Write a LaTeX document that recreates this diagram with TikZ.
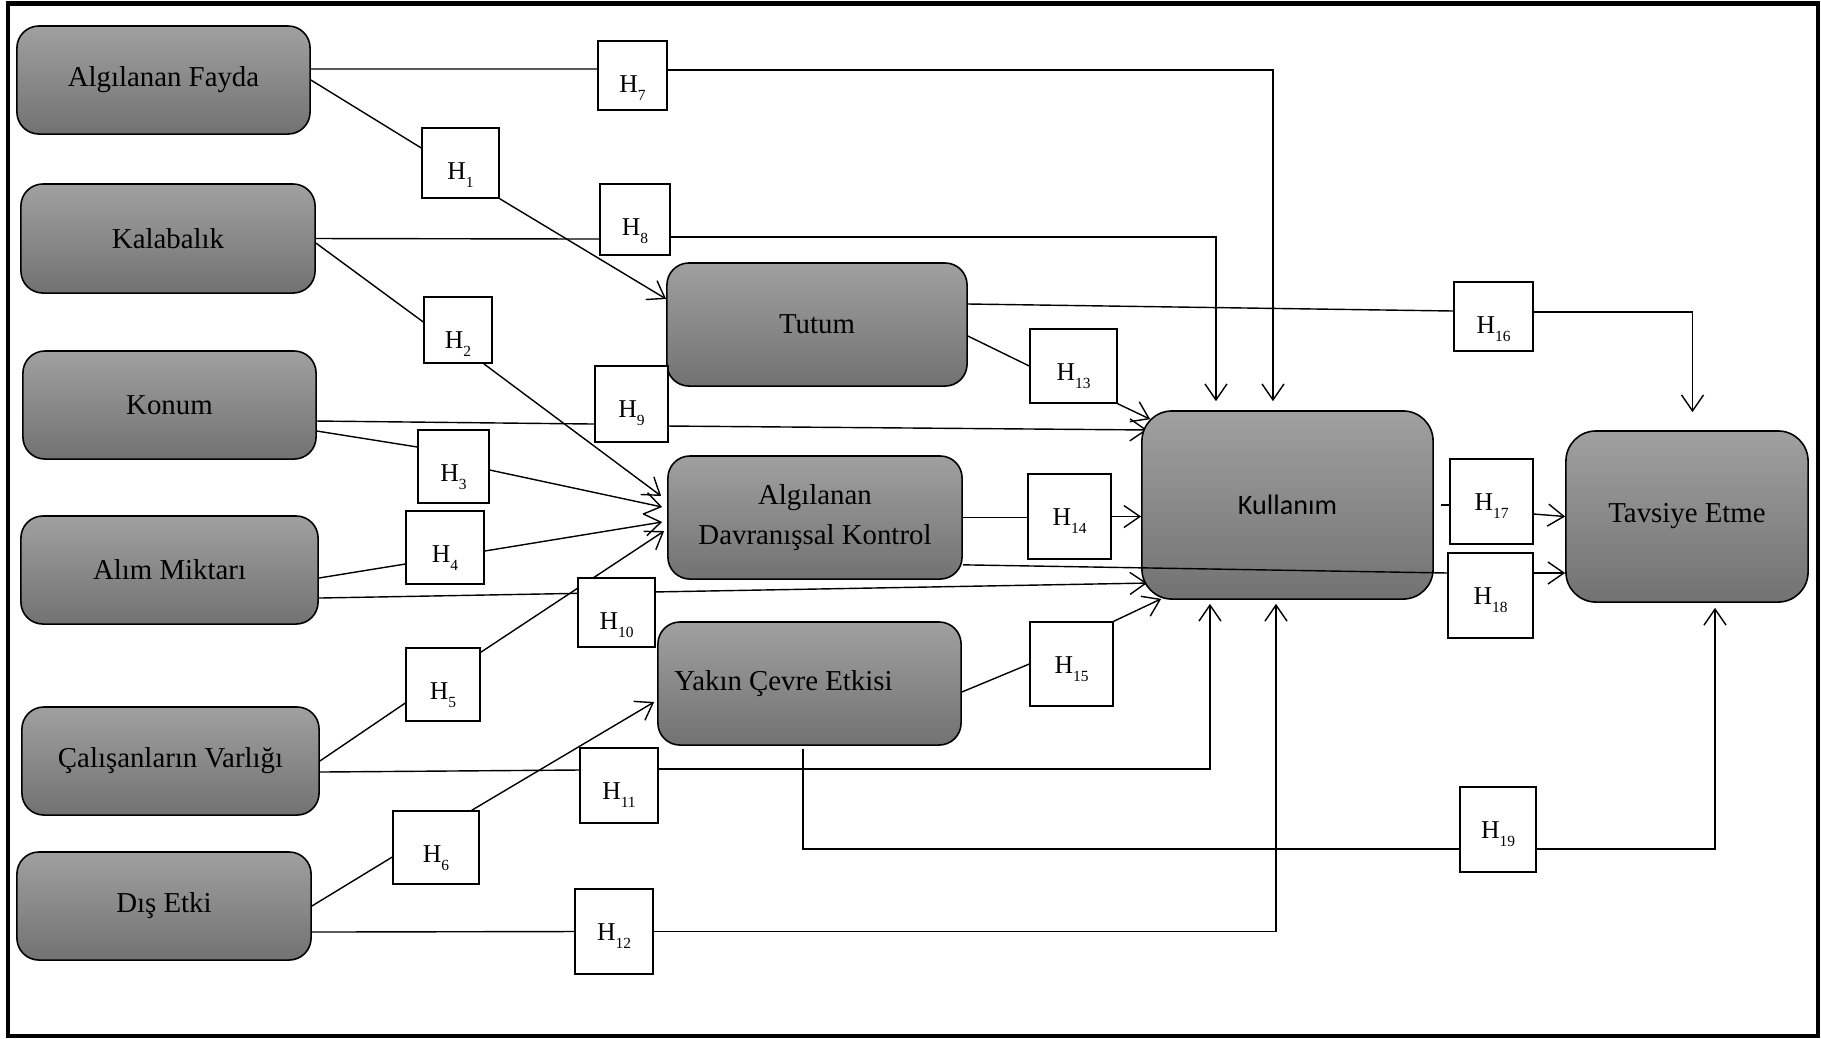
\documentclass[tikz,border=0pt]{standalone}
\usepackage{fontspec}
\setmainfont{Liberation Serif}
\newfontfamily\kulfont{Carlito}
\usetikzlibrary{arrows.meta}
\pgfdeclarelayer{bg}
\pgfsetlayers{bg,main}
\definecolor{boxtop}{RGB}{160,160,160}
\definecolor{boxbot}{RGB}{114,114,114}
\newcommand{\hyplab}[1]{H\raisebox{-0.32em}{\fontsize{4.4}{5}\selectfont #1}}
\tikzset{
  factor/.style={draw, line width=0.45pt, rounded corners=0.22cm, top color=boxtop, bottom color=boxbot,
    font=\fontsize{8.2}{11.4}\selectfont, align=center, inner sep=0pt},
  hypbox/.style={draw, fill=white, line width=0.4pt, inner sep=0pt, text height=0.51cm, font=\fontsize{7.3}{8}\selectfont},
}

\begin{document}
\begin{tikzpicture}[x=0.01cm, y=-0.01cm, line width=0.4pt, >={Straight Barb[length=0.16cm,width=0.22cm]}]
\useasboundingbox (0,0) rectangle (1821,1038);
\draw[line width=0.045cm] (8,3.5) rectangle (1818,1036);

% left factors
\node[factor, minimum width=2.93cm, minimum height=1.08cm] (fayda) at (163.5,80) {Algılanan Fayda};
\node[factor, minimum width=2.94cm, minimum height=1.09cm] (kalabalik) at (168,238.5) {Kalabalık};
\node[factor, minimum width=2.93cm, minimum height=1.08cm] (konum) at (169.5,405) {Konum};
\node[factor, minimum width=2.97cm, minimum height=1.08cm] (alim) at (169.5,570) {Alım Miktarı};
\node[factor, minimum width=2.97cm, minimum height=1.08cm] (calisan) at (170.5,761) {Çalışanların Varlığı};
\node[factor, minimum width=2.94cm, minimum height=1.08cm] (dis) at (164,906) {Dış Etki};

% middle factors
\node[factor, minimum width=3.00cm, minimum height=1.23cm] (tutum) at (817,324.5) {Tutum};
\node[factor, minimum width=2.94cm, minimum height=1.23cm] (adk) at (815,517.5) {Algılanan\\Davranışsal Kontrol};
\node[factor, minimum width=3.03cm, minimum height=1.23cm] (yakin) at (809.5,683.5) {Yakın Çevre Etkisi\hspace*{0.52cm}};

% outcomes
\node[factor, rounded corners=0.3cm, minimum width=2.91cm, minimum height=1.88cm, font=\kulfont\fontsize{8}{9}\selectfont] (kul) at (1287.5,505) {Kullanım};
\node[factor, rounded corners=0.3cm, minimum width=2.42cm, minimum height=1.71cm] (tavsiye) at (1687,516.5) {Tavsiye Etme};

% hypothesis boxes
\node[hypbox, minimum width=0.77cm, minimum height=0.70cm, text depth=0.19cm] (h1) at (460.5,163) {\hyplab{1}};
\node[hypbox, minimum width=0.68cm, minimum height=0.66cm, text depth=0.15cm] (h2) at (458,330) {\hyplab{2}};
\node[hypbox, minimum width=0.71cm, minimum height=0.73cm, text depth=0.22cm] (h3) at (453.5,466.5) {\hyplab{3}};
\node[hypbox, minimum width=0.78cm, minimum height=0.73cm, text depth=0.22cm] (h4) at (445,547.5) {\hyplab{4}};
\node[hypbox, minimum width=0.74cm, minimum height=0.73cm, text depth=0.22cm] (h5) at (443,684.5) {\hyplab{5}};
\node[hypbox, minimum width=0.86cm, minimum height=0.73cm, text depth=0.22cm] (h6) at (436,847.5) {\hyplab{6}};
\node[hypbox, minimum width=0.69cm, minimum height=0.69cm, text depth=0.18cm] (h7) at (632.5,75.5) {\hyplab{7}};
\node[hypbox, minimum width=0.70cm, minimum height=0.71cm, text depth=0.20cm] (h8) at (635,219.5) {\hyplab{8}};
\node[hypbox, minimum width=0.73cm, minimum height=0.76cm, text depth=0.25cm] (h9) at (631.5,404) {\hyplab{9}};
\node[hypbox, minimum width=0.77cm, minimum height=0.69cm, text depth=0.18cm] (h10) at (616.5,612.5) {\hyplab{10}};
\node[hypbox, minimum width=0.78cm, minimum height=0.75cm, text depth=0.24cm] (h11) at (619,785.5) {\hyplab{11}};
\node[hypbox, minimum width=0.78cm, minimum height=0.85cm, text depth=0.34cm] (h12) at (614,931.5) {\hyplab{12}};
\node[hypbox, minimum width=0.87cm, minimum height=0.74cm, text depth=0.23cm] (h13) at (1073.5,366) {\hyplab{13}};
\node[hypbox, minimum width=0.83cm, minimum height=0.85cm, text depth=0.34cm] (h14) at (1069.5,516.5) {\hyplab{14}};
\node[hypbox, minimum width=0.83cm, minimum height=0.84cm, text depth=0.33cm] (h15) at (1071.5,664) {\hyplab{15}};
\node[hypbox, minimum width=0.79cm, minimum height=0.69cm, text depth=0.18cm] (h16) at (1493.5,316.5) {\hyplab{16}};
\node[hypbox, minimum width=0.83cm, minimum height=0.85cm, text depth=0.34cm] (h17) at (1491.5,501.5) {\hyplab{17}};
\node[hypbox, minimum width=0.85cm, minimum height=0.85cm, text depth=0.34cm] (h18) at (1490.5,595.5) {\hyplab{18}};
\node[hypbox, minimum width=0.76cm, minimum height=0.85cm, text depth=0.34cm] (h19) at (1498,829.5) {\hyplab{19}};

\begin{pgfonlayer}{bg}
    \draw ([yshift=0.11cm]fayda.east) -- ([yshift=0.065cm]h7.west);
    \draw[->] ([yshift=0.055cm]h7.east) -| ([xshift=-0.145cm,yshift=0.09cm]kul.north);
    \draw (kalabalik.east) -- ([yshift=-0.195cm]h8.west);
    \draw[->] ([yshift=-0.175cm]h8.east) -| ([xshift=-0.715cm,yshift=0.09cm]kul.north);

    \draw (fayda.east) -- ([yshift=0.15cm]h1.west);
    \draw[->] (h1.south east) -- ([yshift=0.255cm]tutum.west);
    \draw ([yshift=-0.045cm]kalabalik.east) -- ([yshift=0.08cm]h2.west);
    \draw[->] ([xshift=-0.09cm]h2.south east) -- ([xshift=-0.06cm,yshift=0.215cm]adk.west);
    \draw ([yshift=-0.26cm]konum.east) -- ([yshift=0.195cm]h3.west);
    \draw[->] ([yshift=-0.035cm]h3.east) -- ([xshift=-0.05cm,yshift=0.105cm]adk.west);
    \draw ([yshift=-0.16cm]konum.east) -- ([yshift=-0.2cm]h9.west);
    \draw[->] ([yshift=-0.22cm]h9.east) -- ([xshift=0.06cm,yshift=0.75cm]kul.west);
    \draw ([yshift=-0.08cm]alim.east) -- ([yshift=-0.165cm]h4.west);
    \draw[->] ([yshift=-0.035cm]h4.east) -- ([xshift=-0.05cm,yshift=-0.045cm]adk.west);
    \draw[->] ([yshift=-0.28cm]alim.east) -- ([xshift=0.06cm,yshift=-0.78cm]kul.west);
    \draw (calisan.east) -- ([yshift=-0.185cm]h5.west);
    \draw[->] ([yshift=-0.05cm]h5.north east) -- ([xshift=-0.03cm,yshift=-0.135cm]adk.west);
    \draw ([yshift=-0.11cm]calisan.east) -- ([yshift=0.155cm]h11.west);
    \draw[->] ([yshift=0.165cm]h11.east) -| ([xshift=-0.775cm,yshift=-0.04cm]kul.south);
    \draw (dis.east) -- ([yshift=-0.095cm]h6.west);
    \draw[->] ([xshift=-0.08cm]h6.north east) -- ([xshift=-0.03cm,yshift=-0.185cm]yakin.west);
    \draw ([yshift=-0.26cm]dis.east) -- (h12.west);
    \draw[->] (h12.east) -| ([xshift=-0.115cm,yshift=-0.04cm]kul.south);

    \draw ([yshift=-0.115cm]tutum.east) -- (h13.west);
    \draw[->] (h13.south east) -- ([xshift=0.09cm,yshift=-0.09cm]kul.north west);
    \draw (adk.east) -- (adk.east -| h14.west);
    \draw[->] (h14.east) -- (h14.east -| kul.west);
    \draw ([yshift=-0.085cm]yakin.east) -- (h15.west);
    \draw[->] (h15.north east) -- ([xshift=0.2cm,yshift=0.01cm]kul.south west);

    \draw ([yshift=0.205cm]tutum.east) -- ([yshift=0.055cm]h16.west);
    \draw[->] ([yshift=0.045cm]h16.east) -| ([xshift=0.055cm,yshift=0.18cm]tavsiye.north);
    \draw ([xshift=0.07cm]kul.east) -- (kul.east -| h17.west);
    \draw[->] ([yshift=-0.125cm]h17.east) -- (tavsiye.west);
    \draw[->] ([yshift=0.225cm]h18.east) -- ([yshift=0.225cm]h18.east -| tavsiye.west);
    \draw ([xshift=-0.065cm,yshift=-0.03cm]yakin.south) |- ([yshift=-0.195cm]h19.west);
    \draw[->] ([yshift=-0.195cm]h19.east) -| ([xshift=0.28cm,yshift=-0.05cm]tavsiye.south);
\end{pgfonlayer}
% crosses over Kullanim
\draw ([yshift=0.15cm]adk.south east) -- ([yshift=0.225cm]h18.west);
\end{tikzpicture}
\end{document}
